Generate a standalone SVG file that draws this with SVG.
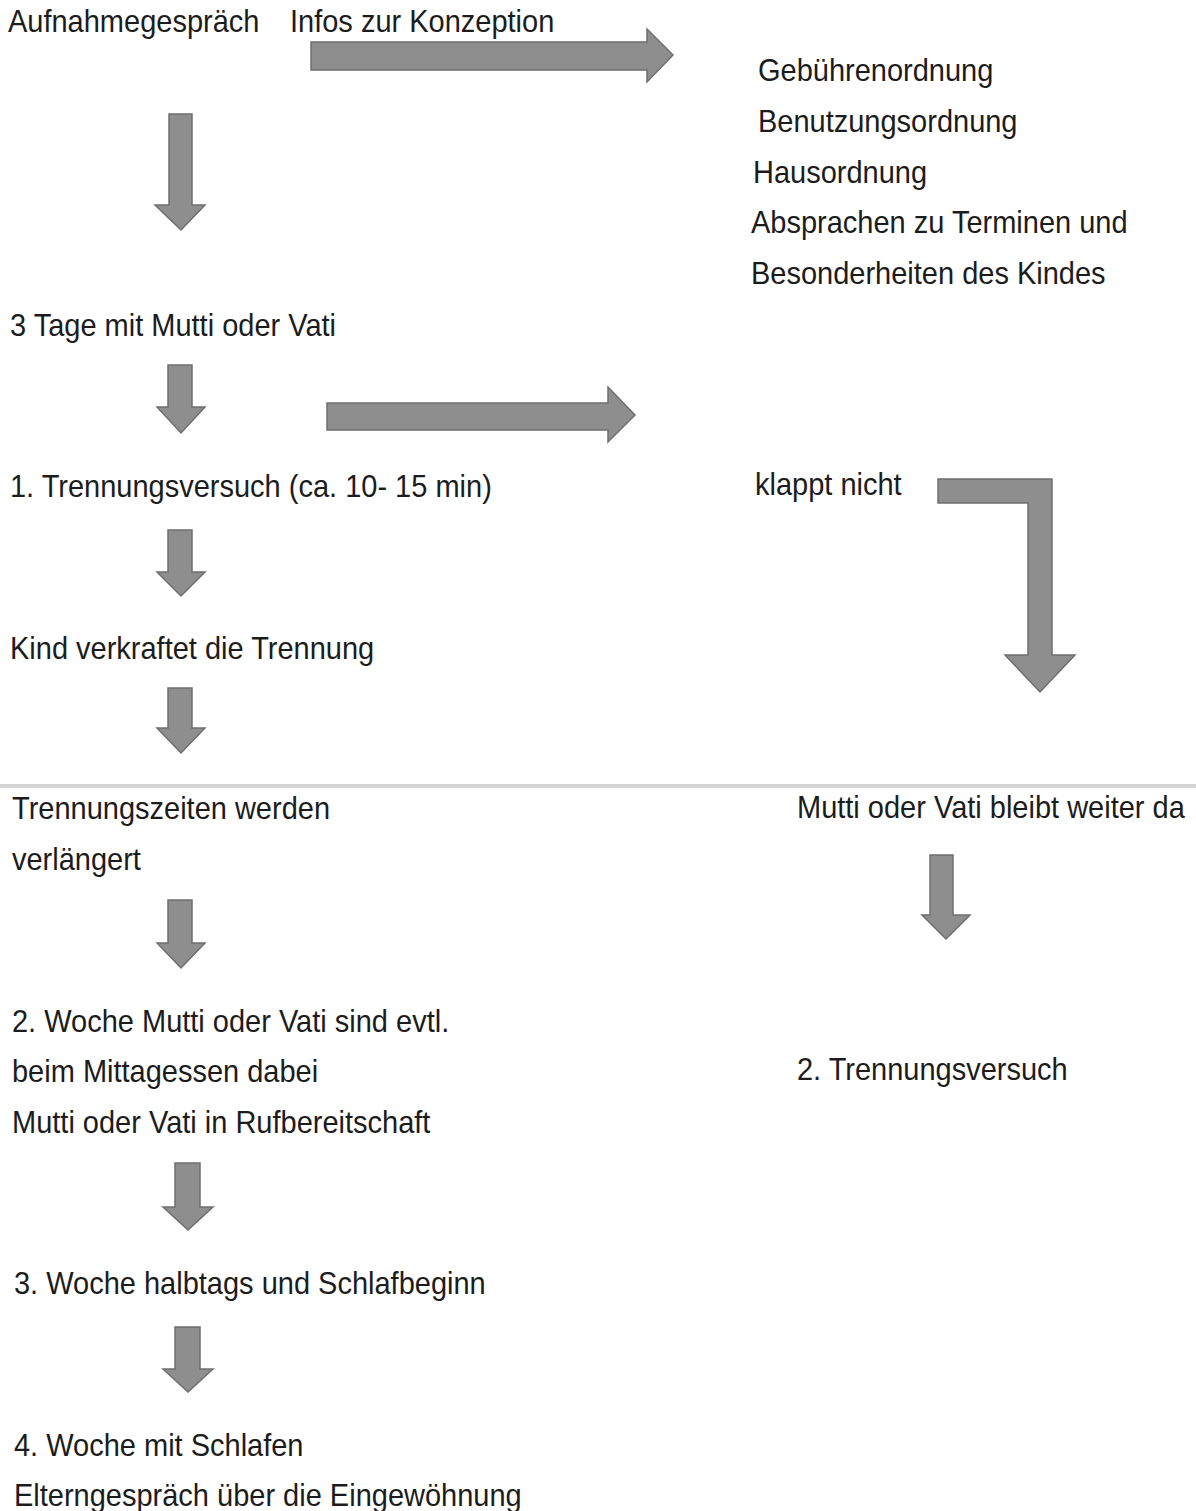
<svg xmlns="http://www.w3.org/2000/svg" width="1196" height="1511" viewBox="0 0 1196 1511">
<style>
text{font-family:"Liberation Sans",Arial,sans-serif;font-size:29px;fill:#1c1c1c;transform-box:fill-box;transform-origin:0 81%;transform:scaleY(1.08)}
.arr{fill:#8e8e8e;stroke:#6f6f6f;stroke-width:1.5;stroke-linejoin:miter}
</style>
<rect width="1196" height="1511" fill="#ffffff"/>
<rect id="separator" x="0" y="784" width="1196" height="4" fill="#d6d6d6"/>
<g id="connectors">
<path class="arr" d="M169,114 H192 V205 H205 L181,230 L155,205 H169 Z"/>
<path class="arr" d="M311,42 H647 V29 L673,55 L647,82 V70 H311 Z"/>
<path class="arr" d="M168,365 H192 V407 H205 L181,433 L157,407 H168 Z"/>
<path class="arr" d="M327,403 H608 V387 L635,415 L608,442 V430 H327 Z"/>
<path class="arr" d="M938,479 H1052 V655 H1075 L1040,692 L1005,655 H1028 V503 H938 Z"/>
<path class="arr" d="M168,530 H192 V572 H205 L181,596 L157,572 H168 Z"/>
<path class="arr" d="M168,688 H192 V728 H205 L181,753 L157,728 H168 Z"/>
<path class="arr" d="M168,900 H192 V943 H205 L181,968 L157,943 H168 Z"/>
<path class="arr" d="M930,855 H953 V915 H970 L946,939 L922,915 H930 Z"/>
<path class="arr" d="M175,1163 H200 V1207 H213 L188,1230 L163,1207 H175 Z"/>
<path class="arr" d="M175,1327 H200 V1369 H213 L188,1392 L163,1369 H175 Z"/>
</g>
<g id="n-aufnahme"><text x="8" y="32">Aufnahmegespräch</text></g>
<g id="n-infos"><text x="290" y="32">Infos zur Konzeption</text></g>
<g id="n-ordnungen">
<text x="758" y="81">Gebührenordnung</text>
<text x="758" y="132">Benutzungsordnung</text>
<text x="753" y="183">Hausordnung</text>
<text x="751" y="233">Absprachen zu Terminen und</text>
<text x="751" y="284">Besonderheiten des Kindes</text>
</g>
<g id="n-3tage"><text x="10" y="336">3 Tage mit Mutti oder Vati</text></g>
<g id="n-trenn1"><text x="10" y="497">1. Trennungsversuch (ca. 10- 15 min)</text></g>
<g id="n-klappt"><text x="755" y="495">klappt nicht</text></g>
<g id="n-verkraftet"><text x="10" y="659">Kind verkraftet die Trennung</text></g>
<g id="n-verlaengert">
<text x="12" y="819">Trennungszeiten werden</text>
<text x="12" y="870">verlängert</text>
</g>
<g id="n-bleibt"><text x="797" y="818">Mutti oder Vati bleibt weiter da</text></g>
<g id="n-woche2">
<text x="12" y="1032">2. Woche Mutti oder Vati sind evtl.</text>
<text x="12" y="1082">beim Mittagessen dabei</text>
<text x="12" y="1133">Mutti oder Vati in Rufbereitschaft</text>
</g>
<g id="n-trenn2"><text x="797" y="1080">2. Trennungsversuch</text></g>
<g id="n-woche3"><text x="14" y="1294">3. Woche halbtags und Schlafbeginn</text></g>
<g id="n-woche4">
<text x="14" y="1456">4. Woche mit Schlafen</text>
<text x="14" y="1506">Elterngespräch über die Eingewöhnung</text>
</g>
</svg>
